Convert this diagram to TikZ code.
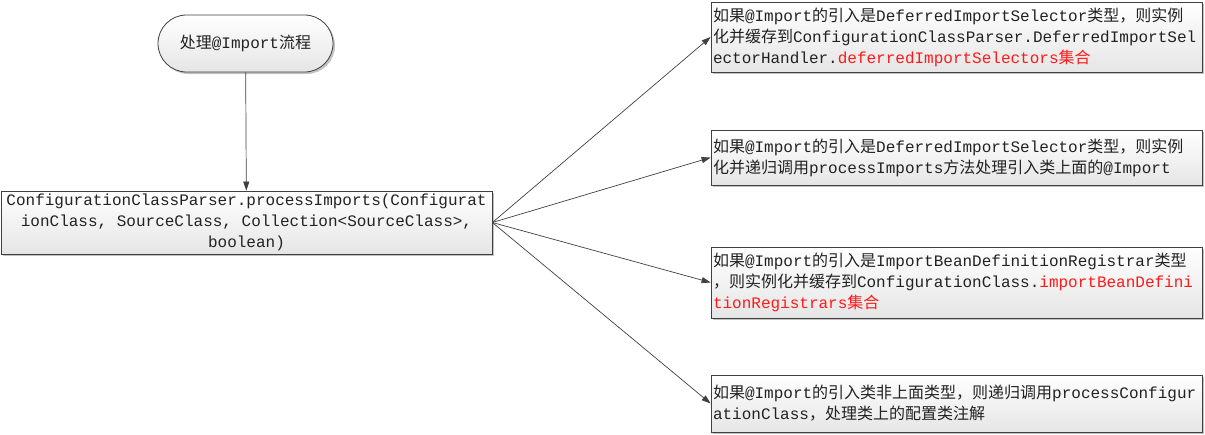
\documentclass[tikz,border=0pt]{standalone}
\usepackage{fontspec}
\setmainfont{Liberation Mono}
\newfontfamily\cjk{Noto Sans CJK SC}
\usetikzlibrary{shapes.misc,shadows,arrows.meta}
\newcommand\zh[1]{{\cjk #1}}
\definecolor{edgec}{HTML}{404040}
\definecolor{txtc}{HTML}{222222}
\definecolor{hlc}{HTML}{FF1A1A}
\begin{document}
\begin{tikzpicture}[x=1pt,y=-1pt,
  box/.style={draw=edgec, line width=0.8pt, top color=white, bottom color=black!10,
    drop shadow={shadow xshift=2pt,shadow yshift=-2pt,fill=black!40,opacity=0.6},
    font=\fontsize{16}{21}\selectfont, text=txtc, inner sep=2pt},
  note/.style={box, text width=487pt, align=left},
  conn/.style={draw=edgec, line width=0.7pt, -{Triangle[length=9pt,width=6pt]}}
]
\useasboundingbox (0,0) rectangle (1205,434);

\node[box, rounded rectangle, minimum width=179pt, minimum height=57pt] (start) at (245.5,43.5) {\zh{处理}@Import\zh{流程}};

\node[box, align=center, minimum width=491pt, minimum height=63pt] (main) at (246.5,222.5)
  {ConfigurationClassParser.processImports(Configurat\\ionClass, SourceClass, Collection<SourceClass>,\\boolean)};

\node[note, minimum height=70pt] (b1) at (956.5,37)
  {\zh{如果}@Import\zh{的引入是}DeferredImportSelector\zh{类型，则实例}\\
   \zh{化并缓存到}ConfigurationClassParser.DeferredImportSel\\
   ectorHandler.\textcolor{hlc}{deferredImportSelectors\zh{集合}}};

\node[note, minimum height=55pt] (b2) at (956.5,157.5)
  {\zh{如果}@Import\zh{的引入是}DeferredImportSelector\zh{类型，则实例}\\
   \zh{化并递归调用}processImports\zh{方法处理引入类上面的}@Import};

\node[note, minimum height=71pt] (b3) at (956.5,282.5)
  {\zh{如果}@Import\zh{的引入是}ImportBeanDefinitionRegistrar\zh{类型}\\
   \zh{，则实例化并缓存到}ConfigurationClass.\textcolor{hlc}{importBeanDefini}\\
   \textcolor{hlc}{tionRegistrars\zh{集合}}};

\node[note, minimum height=57pt] (b4) at (956.5,403.5)
  {\zh{如果}@Import\zh{的引入类非上面类型，则递归调用}processConfigur\\
   ationClass\zh{，处理类上的配置类注解}};

\draw[conn] (start) -- (main);
\draw[conn] (main.east) -- (b1.west);
\draw[conn] (main.east) -- (b2.west);
\draw[conn] (main.east) -- (b3.west);
\draw[conn] (main.east) -- (b4.west);
\end{tikzpicture}
\end{document}
